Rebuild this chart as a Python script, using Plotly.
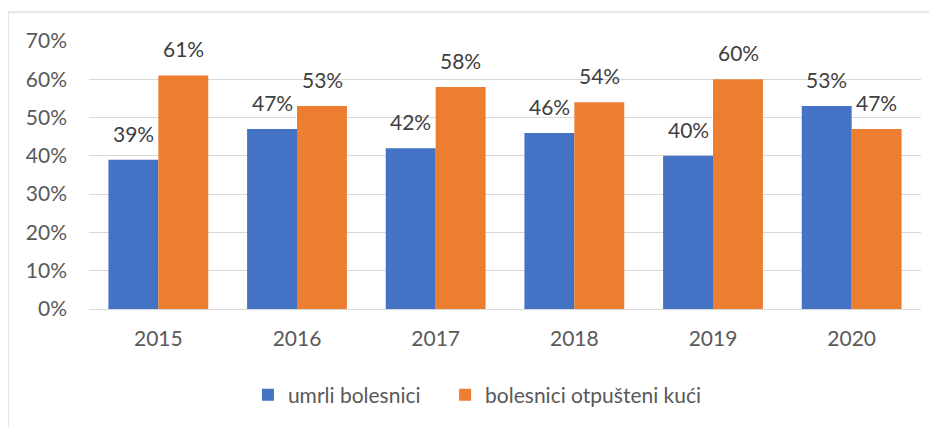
import plotly.graph_objects as go

# data
years = ["2015", "2016", "2017", "2018", "2019", "2020"]
umrli = [39, 47, 42, 46, 40, 53]
otpusteni = [61, 53, 58, 54, 60, 47]
series_names = ["umrli bolesnici", "bolesnici otpušteni kući"]
y_ticks = [0, 10, 20, 30, 40, 50, 60, 70]

FONT = "Lato, 'Open Sans', sans-serif"
colors = ["#4472c4", "#ed7d31"]

fig = go.Figure()
fig.add_trace(go.Bar(x=years, y=umrli, name=series_names[0],
                     marker_color=colors[0], marker_line_width=0,
                     legend="legend"))
fig.add_trace(go.Bar(x=years, y=otpusteni, name=series_names[1],
                     marker_color=colors[1], marker_line_width=0,
                     legend="legend2"))

# data labels floating above each bar (x given as category index)
for vals, shift in [(umrli, -25), (otpusteni, 25)]:
    for i, v in enumerate(vals):
        fig.add_annotation(x=i, y=v, text=f"{v}%", showarrow=False,
                           xshift=shift, yshift=12, yanchor="bottom",
                           font=dict(size=21, color="#404040", family=FONT))

leg_font = dict(size=21, color="#595959", family=FONT)
fig.update_layout(
    width=937, height=427,
    margin=dict(l=81, r=24, t=33, b=126),
    paper_bgcolor="white", plot_bgcolor="white",
    barmode="group", bargap=0.28, bargroupgap=0,
    font=dict(family=FONT, color="#595959", size=21),
    showlegend=True,
    legend=dict(orientation="h", x=0.191, xanchor="left", y=-0.321,
                yanchor="middle", font=leg_font),
    legend2=dict(orientation="h", x=0.428, xanchor="left", y=-0.321,
                 yanchor="middle", font=leg_font),
)
fig.update_xaxes(type="category", range=[-0.5, 5.5], showgrid=False,
                 showline=False, ticks="", ticklabelstandoff=15)
fig.update_yaxes(range=[0, 70], tickvals=y_ticks,
                 ticktext=[f"{t}%" for t in y_ticks],
                 showgrid=True, gridcolor="#d9d9d9", gridwidth=1.3,
                 zeroline=True, zerolinecolor="#d9d9d9", zerolinewidth=1.3,
                 showline=False, ticks="", ticklabelstandoff=21)

# chart frame (cut off at right and bottom like the reference)
fig.add_shape(type="rect", xref="paper", yref="paper",
              x0=-0.0974, x1=1.1, y0=-0.6, y1=1.108,
              line=dict(color="#d9d9d9", width=1.3), layer="below")

fig.write_html("out.html")
